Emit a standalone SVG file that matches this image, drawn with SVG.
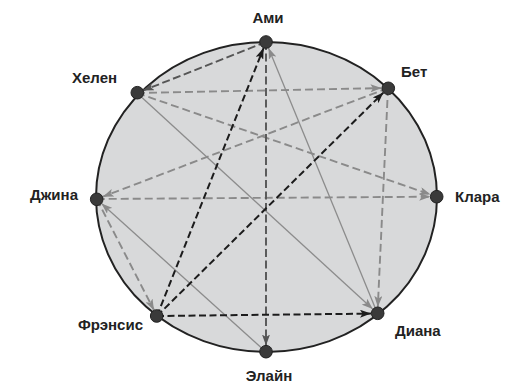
<svg xmlns="http://www.w3.org/2000/svg" width="510" height="383" viewBox="0 0 510 383">
<style>
.lbl{font-family:"Liberation Sans",Arial,sans-serif;font-weight:bold;font-size:15px;fill:#222}
.node{fill:#3a3a3a;stroke:#222;stroke-width:1}
.blk{stroke:#1c1c1c;stroke-width:2;stroke-dasharray:7 3.5;fill:none}
.dg{stroke:#555;stroke-width:1.9;stroke-dasharray:8 3.5;fill:none}
.gd{stroke:#8a8a8a;stroke-width:1.9;stroke-dasharray:8 4;fill:none}
.gs{stroke:#8c8c8c;stroke-width:1.3;fill:none}
</style>
<defs>
<marker id="aB" markerUnits="userSpaceOnUse" markerWidth="12" markerHeight="8" refX="11" refY="4" orient="auto"><path d="M0,0 L11,4 L0,8 L2.5,4 z" fill="#1c1c1c"/></marker>
<marker id="aD" markerUnits="userSpaceOnUse" markerWidth="12" markerHeight="8" refX="11" refY="4" orient="auto"><path d="M0,0 L11,4 L0,8 L2.5,4 z" fill="#555"/></marker>
<marker id="aG" markerUnits="userSpaceOnUse" markerWidth="12" markerHeight="8" refX="11" refY="4" orient="auto"><path d="M0,0 L11,4 L0,8 L2.5,4 z" fill="#8a8a8a"/></marker>
</defs>
<ellipse cx="266.5" cy="197" rx="170.5" ry="155" fill="#d8d9da" stroke="#222" stroke-width="2"/>
<g id="connectors">
<line class="gs" x1="137" y1="93" x2="372.7" y2="309.1" marker-end="url(#aG)"/>
<line class="gs" x1="377.5" y1="313.5" x2="268.5" y2="48" marker-end="url(#aG)"/>
<line class="gs" x1="266" y1="352" x2="101.5" y2="203.4" marker-end="url(#aG)"/>
<line class="gd" x1="137" y1="93" x2="381.5" y2="88.1" marker-end="url(#aG)"/>
<line class="gd" x1="388" y1="88" x2="377.8" y2="307" marker-end="url(#aG)"/>
<line class="gd" x1="388" y1="88" x2="102.8" y2="196.7" marker-end="url(#aG)"/>
<line class="gd" x1="96.7" y1="199" x2="430.2" y2="196.7" marker-end="url(#aG)"/>
<line class="gd" x1="137" y1="93" x2="430.6" y2="194.6" marker-end="url(#aG)"/>
<line class="gd" x1="96.7" y1="199" x2="154" y2="310.2" marker-end="url(#aG)"/>
<line class="dg" x1="266" y1="42" x2="143" y2="90.6" marker-end="url(#aD)"/>
<line class="dg" x1="266" y1="42" x2="266" y2="345.5" marker-end="url(#aD)"/>
<line class="blk" x1="157" y1="316" x2="263.6" y2="48" marker-end="url(#aB)"/>
<line class="blk" x1="157" y1="316" x2="383.4" y2="92.6" marker-end="url(#aB)"/>
<line class="blk" x1="157" y1="316" x2="371" y2="313.6" marker-end="url(#aB)"/>
</g>
<g id="n-ami"><circle class="node" cx="266" cy="42" r="6.3"/><text class="lbl" x="268" y="23" text-anchor="middle">Ами</text></g>
<g id="n-bet"><circle class="node" cx="388.3" cy="88.3" r="6.3"/><text class="lbl" x="401" y="77">Бет</text></g>
<g id="n-klara"><circle class="node" cx="436.7" cy="196.7" r="6.3"/><text class="lbl" x="455" y="202">Клара</text></g>
<g id="n-diana"><circle class="node" cx="377.7" cy="313.3" r="6.3"/><text class="lbl" x="395" y="336">Диана</text></g>
<g id="n-elain"><circle class="node" cx="266" cy="351.7" r="6.3"/><text class="lbl" x="269" y="381" text-anchor="middle">Элайн</text></g>
<g id="n-frensis"><circle class="node" cx="156.7" cy="316" r="6.3"/><text class="lbl" x="143" y="330" text-anchor="end">Фрэнсис</text></g>
<g id="n-dzhina"><circle class="node" cx="96.7" cy="199.3" r="6.3"/><text class="lbl" x="78" y="200" text-anchor="end">Джина</text></g>
<g id="n-helen"><circle class="node" cx="137.3" cy="92.7" r="6.3"/><text class="lbl" x="72" y="83">Хелен</text></g>
</svg>
